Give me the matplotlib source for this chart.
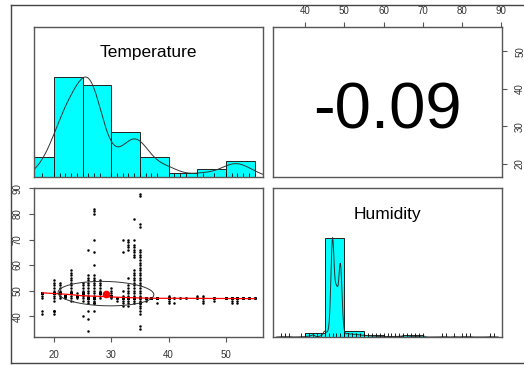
import numpy as np
import matplotlib
matplotlib.use("Agg")
import matplotlib.pyplot as plt
from matplotlib.lines import Line2D

plt.rcParams["font.family"] = ["Liberation Sans", "DejaVu Sans"]

# Temperature values seen as columns in the scatter, and the humidity dots visible in each
temp_values = [18, 20, 21, 22, 23, 24, 25, 26, 27, 28, 30, 31, 32, 33, 34, 35,
               36, 37, 38, 40, 41, 42, 43, 45, 46, 48, 50, 51, 52, 53, 54, 55]
humidity_by_temp = [
    [49, 48, 47, 42, 41],
    [54, 53, 52, 51, 50, 49, 48, 47, 46, 42, 41],
    [53, 52, 51, 50, 49, 48, 47],
    [48, 47],
    [58, 57, 56, 55, 54, 53, 52, 51, 50, 49, 48, 47, 46],
    [49, 48, 47],
    [53, 52, 51, 50, 49, 48, 47, 46, 40],
    [66, 56, 55, 54, 53, 52, 51, 50, 49, 48, 47, 46, 45, 42, 39, 34],
    [82, 81, 80, 70, 65, 60, 56, 55, 54, 53, 52, 51, 50, 49, 48, 47, 46, 45, 42],
    [54, 53, 52, 51, 50, 49, 48, 47],
    [51, 50, 49, 48, 47],
    [47, 46],
    [70, 65, 50, 48, 47, 46, 45, 44],
    [70, 69, 68, 67, 66, 55, 52, 51, 50, 49, 48, 47, 46, 45, 44],
    [78, 70, 68, 67, 66, 65, 64, 63, 58, 57, 56, 55, 54, 53, 52, 51, 50, 49,
     48, 47, 46, 45],
    [88, 87, 76, 75, 66, 65, 64, 63, 62, 61, 60, 59, 58, 57, 56, 55, 54, 53,
     52, 51, 50, 49, 48, 47, 46, 45, 44, 43, 42, 41, 36, 35],
    [47, 46], [47], [47, 45], [48, 47, 46, 45], [47, 45], [47], [47], [48, 47],
    [48, 47, 46, 45], [47, 46], [47], [47, 46, 45], [47, 46, 45], [47], [47], [47],
]

# repeated readings hidden under the visible dots
extra_temp = [18, 20, 20, 21, 22, 23, 24, 25, 26, 27, 27, 28, 30, 31, 32, 33, 34,
              35, 35, 36, 37, 38, 40, 41, 42, 43, 45, 46, 48, 50, 51, 52, 53, 54, 55]
extra_hum = [49, 49, 42, 49, 48, 49, 48, 49, 47, 47, 45, 49, 48, 47, 47, 47, 47,
             47, 45, 47, 47, 47, 47, 47, 47, 47, 47, 47, 47, 47, 47, 47, 47, 47, 47]
extra_n = [17, 22, 2, 38, 53, 47, 57, 61, 84, 63, 3, 47, 22, 3, 7, 20, 13,
           4, 4, 12, 11, 11, 14, 1, 1, 1, 2, 1, 5, 9, 10, 10, 8, 6, 4]

corr_value = -0.09
temp_ticks = [20, 30, 40, 50]
hum_ticks = [40, 50, 60, 70, 80, 90]

W, H = 524, 365
HIST_COL = "#00FFFF"
FRAME = "#555555"


def build_data():
    t = [np.full(len(h), v) for v, h in zip(temp_values, humidity_by_temp)]
    t.append(np.repeat(extra_temp, extra_n))
    h = [np.array(v) for v in humidity_by_temp]
    h.append(np.repeat(extra_hum, extra_n))
    return np.concatenate(t).astype(float), np.concatenate(h).astype(float)


def r_hist(x, width=5):
    # right-closed bins like R's hist()
    lo = np.floor(x.min() / width) * width
    hi = np.ceil(x.max() / width) * width
    edges = np.arange(lo, hi + width / 2, width)
    idx = np.clip(np.searchsorted(edges, x, side="left") - 1, 0, len(edges) - 2)
    counts = np.bincount(idx, minlength=len(edges) - 1)
    return edges, counts


def density_curve(x):
    q1, q3 = np.percentile(x, [25, 75])
    bw = 1.06 * min(np.std(x, ddof=1), (q3 - q1) / 1.34) * len(x) ** -0.2
    grid = np.linspace(x.min() - 3 * bw, x.max() + 3 * bw, 512)
    vals, cnts = np.unique(x, return_counts=True)
    d = (cnts[None, :] * np.exp(-0.5 * ((grid[:, None] - vals[None, :]) / bw) ** 2)).sum(1)
    return grid, d / d.max()


def lowess(x, y, f=2 / 3, iters=3):
    order = np.argsort(x, kind="stable")
    x, y = x[order], y[order]
    n = len(x)
    ns = max(min(int(np.floor(f * n + 1e-7)), n), 2)
    xs = np.unique(x)
    rw = np.ones(n)
    fit = np.empty(len(xs))
    for it in range(iters + 1):
        for i, x0 in enumerate(xs):
            d = np.abs(x - x0)
            h = max(np.partition(d, ns - 1)[ns - 1], 1e-9)
            u = np.clip(d / h, 0, 1)
            w = (1 - u ** 3) ** 3 * rw
            sw = w.sum()
            xm = (w * x).sum() / sw
            ym = (w * y).sum() / sw
            den = (w * (x - xm) ** 2).sum()
            b = (w * (x - xm) * (y - ym)).sum() / den if den > 1e-12 else 0.0
            fit[i] = ym + b * (x0 - xm)
        if it == iters:
            break
        res = y - np.interp(x, xs, fit)
        s = np.median(np.abs(res))
        if s < 1e-7:
            break
        u = np.clip(res / (6 * s), -1, 1)
        rw = (1 - u ** 2) ** 2
    return xs, fit


def padded(x):
    r = x.max() - x.min()
    return x.min() - 0.04 * r, x.max() + 0.04 * r


def px_axes(fig, x0, y0, x1, y1):
    return fig.add_axes([x0 / W, 1 - y1 / H, (x1 - x0) / W, (y1 - y0) / H])


def style_frame(ax, pad=6):
    for s in ax.spines.values():
        s.set_color(FRAME)
        s.set_linewidth(1.0)
    ax.tick_params(direction="out", length=3.4, width=0.8, color=FRAME,
                   labelsize=7, labelcolor="#333333", pad=pad)


def hist_panel(ax, x, lim):
    edges, counts = r_hist(x)
    y = counts / counts.max()
    ax.bar(edges[:-1], y, width=np.diff(edges), align="edge", color=HIST_COL,
           edgecolor="#222222", linewidth=0.7)
    gx, gy = density_curve(x)
    ax.plot(gx, gy, color="#333333", lw=0.7)
    ax.vlines(np.unique(x), 0, 0.045, color="black", lw=0.6)
    ax.set_xlim(lim)
    ax.set_ylim(0, 1.5)
    ax.set_xticks([])
    ax.set_yticks([])
    style_frame(ax)


def main():
    temp, hum = build_data()
    t_lim, h_lim = padded(temp), padded(hum)

    fig = plt.figure(figsize=(W / 100, H / 100), dpi=100)
    ax_tl = px_axes(fig, 34, 27, 263, 177)
    ax_tr = px_axes(fig, 273, 27, 502, 177)
    ax_bl = px_axes(fig, 34, 188, 263, 337)
    ax_br = px_axes(fig, 273, 188, 502, 337)

    # diagonal: histograms with density and rug
    hist_panel(ax_tl, temp, t_lim)
    hist_panel(ax_br, hum, h_lim)
    fig.text(148.5 / W, 1 - 56.5 / H, "Temperature", ha="center", va="baseline", fontsize=12.5)
    fig.text(387.5 / W, 1 - 219.5 / H, "Humidity", ha="center", va="baseline", fontsize=12.5)

    # upper panel: correlation
    ax_tr.set_xlim(h_lim)
    ax_tr.set_ylim(t_lim)
    ax_tr.xaxis.tick_top()
    ax_tr.yaxis.tick_right()
    ax_tr.set_xticks(hum_ticks)
    ax_tr.set_yticks(temp_ticks)
    style_frame(ax_tr)
    ax_tr.tick_params(axis="x", pad=4.5)
    for lab in ax_tr.get_yticklabels():
        lab.set_rotation(90)
        lab.set_va("center")
    fig.text(387.5 / W, 1 - 128.5 / H, f"{corr_value:.2f}", ha="center", va="baseline",
             fontsize=47)

    # lower panel: scatter, lowess, correlation ellipse
    ax_bl.plot(temp, hum, "o", color="black", ms=1.8, mew=0)
    lx, ly = lowess(temp, hum)
    ax_bl.plot(lx, ly, color="red", lw=0.9)
    xm, ym = temp.mean(), hum.mean()
    xs, ys = temp.std(ddof=1), hum.std(ddof=1)
    theta = np.sign(corr_value) / np.sqrt(2)
    shape = np.diag([np.sqrt(1 + corr_value), np.sqrt(1 - corr_value)]) @ \
        np.array([[theta, theta], [-theta, theta]])
    ang = np.linspace(0, 2 * np.pi, 52)
    ell = np.column_stack([np.cos(ang), np.sin(ang)]) @ shape
    ax_bl.plot(ell[:, 0] * xs + xm, ell[:, 1] * ys + ym, color="#333333", lw=0.7)
    ax_bl.plot(xm, ym, "o", color="red", ms=5.5, mew=0)
    ax_bl.set_xlim(t_lim)
    ax_bl.set_ylim(h_lim)
    ax_bl.set_xticks(temp_ticks)
    ax_bl.set_yticks(hum_ticks)
    style_frame(ax_bl)
    ax_bl.tick_params(axis="y", pad=5)
    for lab in ax_bl.get_yticklabels():
        lab.set_rotation(90)
        lab.set_va("center")

    # outer frame (right side falls outside the picture)
    for xy in [([11, 11], [5, 363]), ([11, W], [5, 5]), ([11, W], [363, 363])]:
        fig.add_artist(Line2D([v / W for v in xy[0]], [1 - v / H for v in xy[1]],
                              color="#444444", lw=1.0))

    fig.savefig("out.png", dpi=100)


if __name__ == "__main__":
    main()
